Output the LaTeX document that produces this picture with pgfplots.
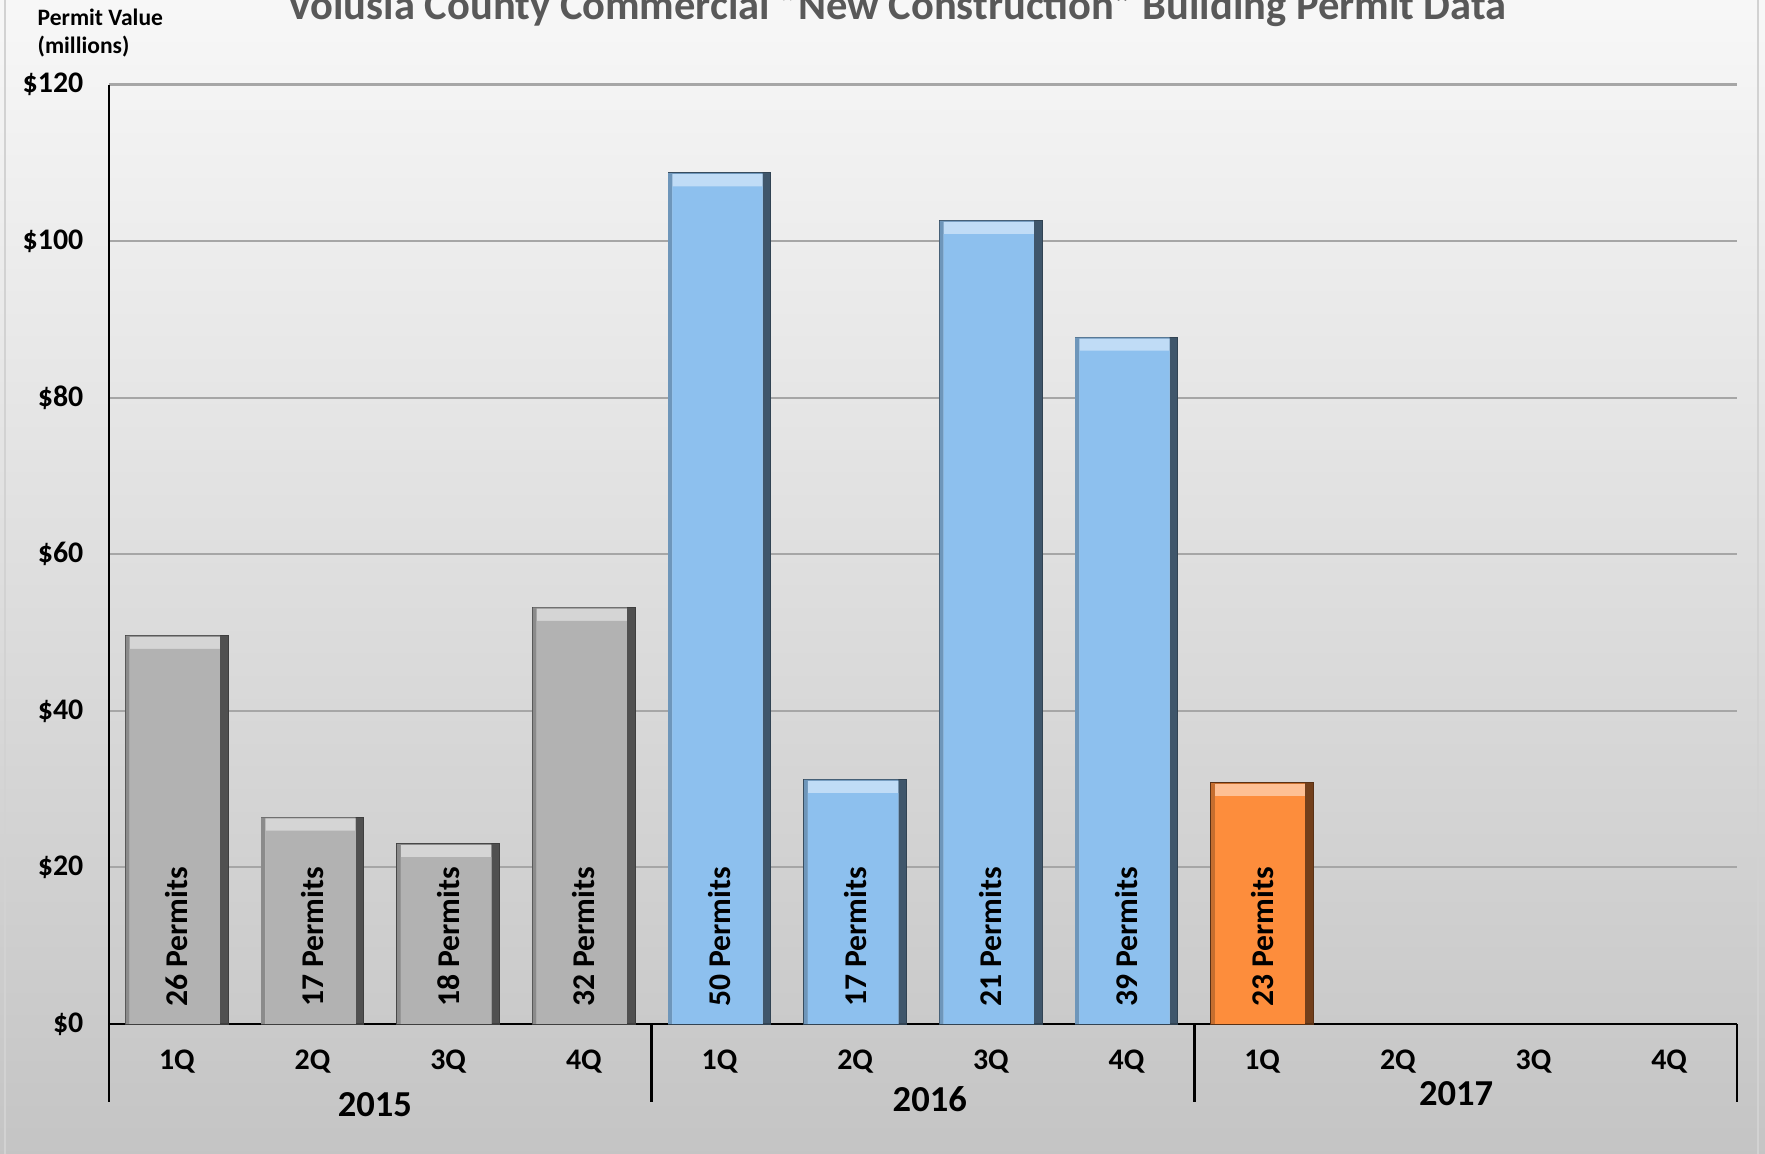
\documentclass[border=0pt]{standalone}
\usepackage{pgfplots}
\pgfplotsset{compat=1.18}
\usepackage{pgfplotstable}
\usepackage{fontspec}
\setmainfont{Carlito}
\definecolor{barg}{HTML}{B2B2B2}
\definecolor{barb}{HTML}{8DC0EE}
\definecolor{baro}{HTML}{FD8D3C}
\definecolor{gridc}{HTML}{A6A6A6}
\definecolor{titlec}{HTML}{595959}
\pgfplotstableread{
x v
0 49.6
1 26.4
2 23.0
3 53.2
}\dataG
\pgfplotstableread{
x v
4 108.7
5 31.2
6 102.6
7 87.7
}\dataB
\pgfplotstableread{
x v
8 30.8
}\dataO
\tikzset{plabel/.style={rotate=90, anchor=west, inner sep=0pt, font=\bfseries\fontsize{9}{10}\selectfont}}
\newcommand\bevelbars[2]{%
  \addplot[ybar, bar width=0.756, bar shift=0, fill=#1!45!black, draw=#1!35!black, line width=0.3pt] table[x=x,y=v]{#2};
  \addplot[ybar, bar width=0.696, bar shift=-0.03, fill=#1!78!black, draw=none] table[x=x,y=v]{#2};
  \addplot[ybar, bar width=0.666, bar shift=-0.015, fill=#1!55!white, draw=none] table[x=x,y expr=\thisrow{v}-0.15]{#2};
  \addplot[ybar, bar width=0.666, bar shift=-0.015, fill=#1, draw=none] table[x=x,y expr=\thisrow{v}-1.7]{#2};
}
\begin{document}
\begin{tikzpicture}[x=0.1mm,y=-0.1mm]
\useasboundingbox (0,0) rectangle (1765,1154);
\shade[top color=white!97!black, bottom color=white!77!black] (0,0) rectangle (1765,1154);
\draw[gray!35, line width=0.6pt] (5,-5) -- (5,1160);
\draw[gray!35, line width=0.6pt] (1758,-5) -- (1758,1160);
\node[titlec, font=\bfseries\fontsize{12.1}{14}\selectfont, anchor=base] at (897,20) {Volusia County Commercial “New Construction” Building Permit Data};
\node[anchor=west, align=left, font=\bfseries\fontsize{6.7}{8}\selectfont, inner sep=0pt] at (37,33) {Permit Value\\(millions)};
\begin{axis}[
  at={(10.9mm,-102.4mm)}, anchor=south west,
  scale only axis, width=162.8mm, height=93.95mm,
  xmin=-0.5, xmax=11.5, ymin=0, ymax=120,
  axis x line*=bottom, axis y line*=left,
  axis line style={-, black, line width=0.7pt},
  major tick length=0pt,
  ytick={0,20,...,120},
  yticklabels={\$0,\$20,\$40,\$60,\$80,\$100,\$120},
  yticklabel style={anchor=east, inner sep=0pt, xshift=-2.5mm},
  xtick={0,...,11},
  xticklabels={1Q,2Q,3Q,4Q,1Q,2Q,3Q,4Q,1Q,2Q,3Q,4Q},
  xticklabel style={anchor=center, inner sep=0pt, yshift=-3.8mm},
  ticklabel style={font=\bfseries\fontsize{8.5}{10}\selectfont},
  ymajorgrids, grid style={gridc, line width=0.6pt},
  clip=false,
]
\bevelbars{barg}{\dataG}
\bevelbars{barb}{\dataB}
\bevelbars{baro}{\dataO}
% labels
\node[plabel] at (axis cs:0,2.1) {26 Permits};
\node[plabel] at (axis cs:1,2.1) {17 Permits};
\node[plabel] at (axis cs:2,2.1) {18 Permits};
\node[plabel] at (axis cs:3,2.1) {32 Permits};
\node[plabel] at (axis cs:4,2.1) {50 Permits};
\node[plabel] at (axis cs:5,2.1) {17 Permits};
\node[plabel] at (axis cs:6,2.1) {21 Permits};
\node[plabel] at (axis cs:7,2.1) {39 Permits};
\node[plabel] at (axis cs:8,2.1) {23 Permits};
% group separators
\draw[black, line width=0.7pt] (axis cs:-0.5,0) -- (axis cs:-0.5,-10);
\draw[black, line width=0.7pt] (axis cs:3.5,0) -- (axis cs:3.5,-10);
\draw[black, line width=0.7pt] (axis cs:7.5,0) -- (axis cs:7.5,-10);
\draw[black, line width=0.7pt] (axis cs:11.5,0) -- (axis cs:11.5,-10);
% years
\node[font=\bfseries\fontsize{10.4}{12}\selectfont] at (axis cs:1.46,-10.3) {2015};
\node[font=\bfseries\fontsize{10.4}{12}\selectfont] at (axis cs:5.55,-9.6) {2016};
\node[font=\bfseries\fontsize{10.4}{12}\selectfont] at (axis cs:9.43,-8.9) {2017};
\end{axis}
\end{tikzpicture}
\end{document}
